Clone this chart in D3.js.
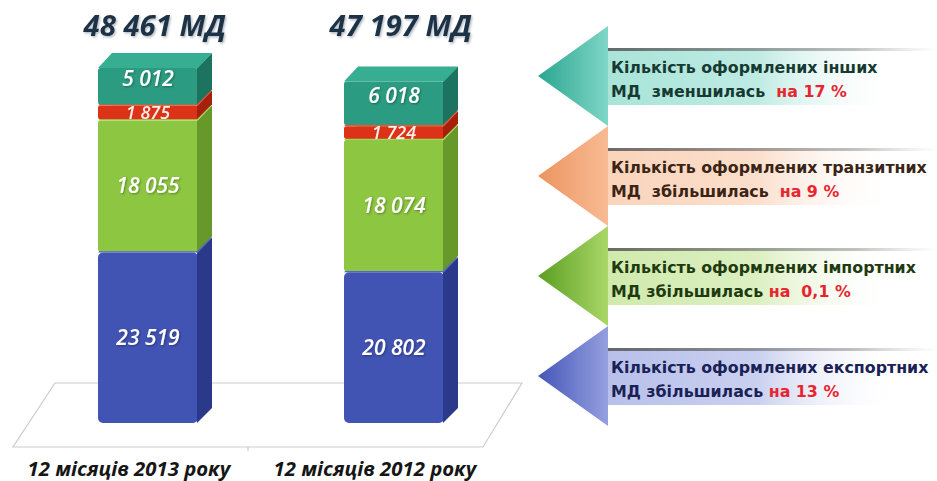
<!DOCTYPE html>
<html><head><meta charset="utf-8">
<script src="https://cdn.jsdelivr.net/npm/d3@7"></script>
<style>body{margin:0;background:#fff;} svg{display:block} text{white-space:pre}</style>
</head><body><svg id="c" width="937" height="481"></svg>
<script>
// ---- data ----
const categories = ["12 місяців 2013 року", "12 місяців 2012 року"];
const totals = [48461, 47197];
const seriesKeys = ["export", "import", "transit", "other"];
const exportMD = [23519, 20802];
const importMD = [18055, 18074];
const transitMD = [1875, 1724];
const otherMD = [5012, 6018];
const arrowLine1 = ["Кількість оформлених інших", "Кількість оформлених транзитних", "Кількість оформлених імпортних", "Кількість оформлених експортних"];
const arrowLine2 = ["МД  зменшилась  ", "МД  збільшилась  ", "МД збільшилась ", "МД збільшилась "];
const arrowPct = ["на 17 %", "на 9 %", "на  0,1 %", "на 13 %"];

// ---- styles ----
const colors = {
  export:  {front: "#4153b3", side: "#2b398a", top: "#5666c8"},
  import:  {front: "#8dc641", side: "#66982a", top: "#a4d75e"},
  transit: {front: "#dc3217", side: "#a5200d", top: "#ee5535"},
  other:   {front: "#2b9c81", side: "#1c735f", top: "#37ad91"}
};
const arrowColors = [
  {tip: "#2aa68f", back: "#7fd6c7", body: "#a9e4d9", text: "#163a32"},
  {tip: "#ec9460", back: "#f8bb94", body: "#fad4bb", text: "#3a2415"},
  {tip: "#5a9f22", back: "#aad668", body: "#d0eaad", text: "#1e3a0f"},
  {tip: "#4456b8", back: "#95a0df", body: "#b8c0ea", text: "#1a2156"}
];

const svg = d3.select("#c");
const defs = svg.append("defs");
defs.append("filter").attr("id", "sh").attr("x", "-10%").attr("y", "-20%").attr("width", "130%").attr("height", "150%")
  .append("feDropShadow").attr("dx", 1.2).attr("dy", 1.5).attr("stdDeviation", 1)
  .attr("flood-color", "#7a8896").attr("flood-opacity", 0.6);
defs.append("filter").attr("id", "sh2").attr("x", "-10%").attr("y", "-20%").attr("width", "130%").attr("height", "150%")
  .append("feDropShadow").attr("dx", 1).attr("dy", 1).attr("stdDeviation", 0.8)
  .attr("flood-color", "#000").attr("flood-opacity", 0.35);

const fmt = d3.formatLocale({decimal: ",", thousands: " ", grouping: [3], currency: ["", ""]}).format(",d");

function fit(sel, w) {
  sel.each(function () {
    const len = this.getComputedTextLength();
    const fs = parseFloat(d3.select(this).style("font-size"));
    d3.select(this).style("font-size", (fs * w / len) + "px");
  });
}

// ---- scales ----
const x = d3.scalePoint().domain(categories).range([148, 394]);
const y = d3.scaleLinear().domain([0, 50000]).range([423, 60.5]);
const barW = 100, DX = 14, DY = 15, GAP = 1.2;

// ---- floor ----
const floor = [[13, 447], [483, 447], [522, 383], [55, 383]];
svg.append("polygon").attr("points", floor.map(p => p.join(",")).join(" "))
  .attr("fill", "#fff").attr("stroke", "#cccccc").attr("stroke-width", 1.2);
svg.append("line").attr("x1", 248).attr("x2", 248).attr("y1", 447).attr("y2", 451)
  .attr("stroke", "#cccccc").attr("stroke-width", 1.2);

// ---- bars ----
const rows = categories.map((c, i) => ({cat: c, export: exportMD[i], import: importMD[i], transit: transitMD[i], other: otherMD[i]}));
const stack = d3.stack().keys(seriesKeys)(rows);

categories.forEach((c, i) => {
  const g = svg.append("g");
  const x0 = x(c) - barW / 2, x1 = x(c) + barW / 2;
  stack.forEach((layer, j) => {
    const key = layer.key;
    const yb = y(layer[i][0]) - j * GAP, yt = y(layer[i][1]) - j * GAP;
    const col = colors[key];
    g.append("rect").attr("x", x0).attr("y", yt).attr("width", barW).attr("height", yb - yt)
      .attr("rx", j === 0 ? 5 : 2.5).attr("fill", col.front);
    g.append("polygon").attr("points", [[x1 - 1, yt], [x1 + DX, yt - DY], [x1 + DX, yb - DY], [x1 - 1, yb]].map(p => p.join(",")).join(" "))
      .attr("fill", col.side);
    g.append("polygon").attr("points", [[x0, yt], [x0 + DX, yt - DY], [x1 + DX, yt - DY], [x1, yt]].map(p => p.join(",")).join(" "))
      .attr("fill", col.top);
    // label
    const isTop = j === stack.length - 1;
    const small = (yb - yt) < 20;
    let cy = isTop ? (yt - DY + yb) / 2 : (yt + yb) / 2;
    const t = g.append("text").attr("x", x(c)).attr("text-anchor", "middle")
      .attr("fill", "#ffffff").style("font-family", "'Open Sans', sans-serif")
      .style("font-style", "italic").style("font-weight", 600)
      .style("font-size", small ? "18px" : "21px")
      .attr("y", cy + (small ? 6.5 : 7.5))
      .attr("filter", small ? null : "url(#sh2)")
      .text(fmt(layer[i].data[key]));
    if (small) {
      const id = "clip" + i + j;
      defs.append("clipPath").attr("id", id).append("rect")
        .attr("x", x0).attr("y", yt - 0.5).attr("width", barW).attr("height", yb - yt + 1);
      t.attr("clip-path", `url(#${id})`).attr("opacity", 0.92);
    }
  });
  // total title
  svg.append("text").attr("x", x(c) + 7).attr("y", 36).attr("text-anchor", "middle")
    .attr("fill", "#1e3046").attr("filter", "url(#sh)")
    .style("font-family", "'Open Sans', sans-serif").style("font-style", "italic").style("font-weight", 700)
    .style("font-size", "24px")
    .text(fmt(totals[i]) + " МД").call(fit, 143);
  // category label
  svg.append("text").attr("x", x(c) - 19).attr("y", 476).attr("text-anchor", "middle")
    .attr("fill", "#161616")
    .style("font-family", "'Open Sans', sans-serif").style("font-style", "italic").style("font-weight", 700)
    .style("font-size", "17px")
    .text(c).call(fit, 203);
});

// ---- arrows ----
const ay = d3.scalePoint().domain(d3.range(arrowLine1.length)).range([76, 376]);
const tipX = 538, backX = 608, headH = 50, bTop = -28, bBot = 29;

const probe = svg.append("text").style("font-family", "'DejaVu Sans', sans-serif").style("font-weight", 700)
  .style("font-size", "14px").text(arrowLine1[1]);
const afs = 14 * 316 / probe.node().getComputedTextLength();
probe.remove();

const sg = defs.append("linearGradient").attr("id", "stripe").attr("gradientUnits", "userSpaceOnUse")
  .attr("x1", backX).attr("x2", 937).attr("y1", 0).attr("y2", 0);
sg.append("stop").attr("offset", "0%").attr("stop-color", "#555").attr("stop-opacity", 0.85);
sg.append("stop").attr("offset", "75%").attr("stop-color", "#777").attr("stop-opacity", 0.45);
sg.append("stop").attr("offset", "100%").attr("stop-color", "#999").attr("stop-opacity", 0);

arrowLine1.forEach((l1, k) => {
  const ty = ay(k), col = arrowColors[k];
  const gid = "ag" + k;
  const gr = defs.append("linearGradient").attr("id", gid).attr("gradientUnits", "userSpaceOnUse")
    .attr("x1", tipX).attr("x2", 937).attr("y1", 0).attr("y2", 0);
  const f = (backX - tipX) / (937 - tipX);
  gr.append("stop").attr("offset", 0).attr("stop-color", col.tip);
  gr.append("stop").attr("offset", f).attr("stop-color", col.back);
  gr.append("stop").attr("offset", f + 0.001).attr("stop-color", col.body);
  gr.append("stop").attr("offset", 0.55).attr("stop-color", col.body).attr("stop-opacity", 0.75);
  gr.append("stop").attr("offset", 0.9).attr("stop-color", "#ffffff").attr("stop-opacity", 0);
  const pts = [[tipX, ty], [backX, ty - headH], [backX, ty + bTop], [937, ty + bTop], [937, ty + bBot],
               [backX, ty + bBot], [backX, ty + headH]];
  svg.append("polygon").attr("points", pts.map(p => p.join(",")).join(" ")).attr("fill", `url(#${gid})`);
  svg.append("rect").attr("x", backX).attr("y", ty + bTop).attr("width", 937 - backX).attr("height", 3)
    .attr("fill", "url(#stripe)");
  const tx = 611;
  svg.append("text").attr("x", tx).attr("y", ty - 3).attr("fill", col.text)
    .style("font-family", "'DejaVu Sans', sans-serif").style("font-weight", 700).style("font-size", afs + "px")
    .text(l1);
  const t2 = svg.append("text").attr("x", tx).attr("y", ty + 21).attr("fill", col.text)
    .style("font-family", "'DejaVu Sans', sans-serif").style("font-weight", 700).style("font-size", afs + "px");
  t2.append("tspan").text(arrowLine2[k]);
  t2.append("tspan").attr("fill", "#e8252f").text(arrowPct[k]);
});
</script>
</body></html>
